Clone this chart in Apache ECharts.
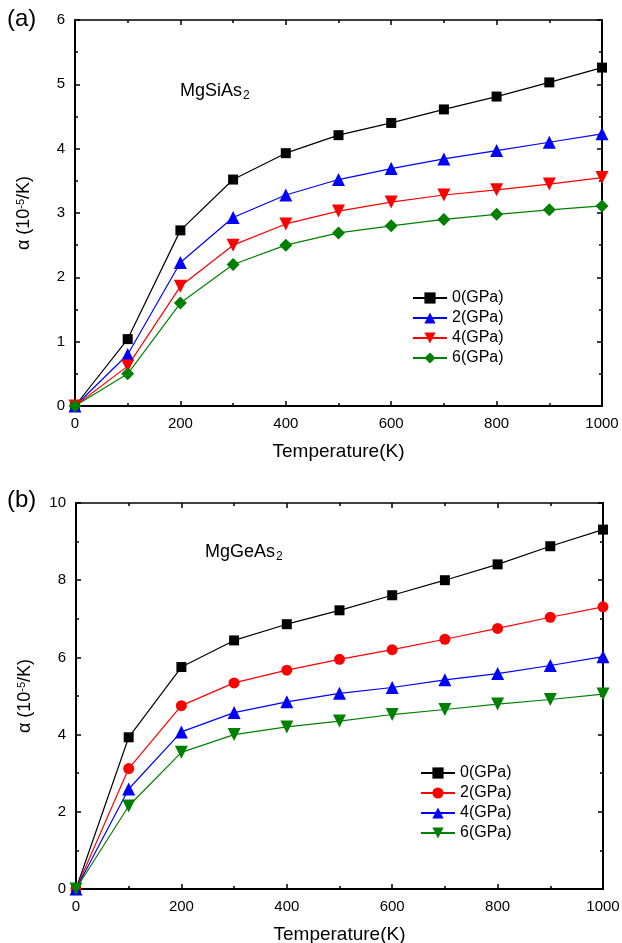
<!DOCTYPE html>
<html>
<head>
<meta charset="utf-8">
<script src="https://cdn.jsdelivr.net/npm/echarts@6/dist/echarts.min.js"></script>
<style>
  html, body { margin: 0; padding: 0; background: #fff; }
  #chart { width: 622px; height: 943px; }
</style>
</head>
<body>
<div id="chart"></div>
<script>
// Temperature grid (K)
const temperatures = [0, 100, 200, 300, 400, 500, 600, 700, 800, 900, 1000];

// Panel (a): MgSiAs2 thermal expansion, 10^-5 /K
const pressuresA = ['0(GPa)', '2(GPa)', '4(GPa)', '6(GPa)'];
const siAs_0 = [0, 1.04, 2.73, 3.52, 3.93, 4.21, 4.40, 4.61, 4.81, 5.03, 5.26];
const siAs_2 = [0, 0.80, 2.23, 2.93, 3.28, 3.52, 3.69, 3.84, 3.97, 4.10, 4.23];
const siAs_4 = [0, 0.62, 1.86, 2.50, 2.83, 3.03, 3.17, 3.28, 3.36, 3.45, 3.55];
const siAs_6 = [0, 0.50, 1.60, 2.20, 2.50, 2.69, 2.80, 2.90, 2.98, 3.05, 3.11];

// Panel (b): MgGeAs2 thermal expansion, 10^-5 /K
const pressuresB = ['0(GPa)', '2(GPa)', '4(GPa)', '6(GPa)'];
const geAs_0 = [0, 3.93, 5.75, 6.44, 6.86, 7.22, 7.61, 8.00, 8.41, 8.88, 9.31];
const geAs_2 = [0, 3.12, 4.75, 5.34, 5.67, 5.95, 6.20, 6.47, 6.75, 7.04, 7.31];
const geAs_4 = [0, 2.59, 4.07, 4.57, 4.85, 5.07, 5.22, 5.42, 5.58, 5.79, 6.02];
const geAs_6 = [0, 2.15, 3.54, 4.00, 4.20, 4.35, 4.52, 4.65, 4.79, 4.91, 5.05];

const FONT = 'Liberation Sans, Arial, sans-serif';
const BLUE = '#0000ff', RED = '#ff0000', GREEN = '#008000', BLACK = '#000000';

function pairs(ys) { return temperatures.map((t, i) => [t, ys[i]]); }

const tickStyle = { show: true, inside: true, length: 5, lineStyle: { color: '#000', width: 1.5 } };
const minorStyle = { show: true, splitNumber: 2, length: 3, lineStyle: { color: '#000', width: 1.5 } };

function bottomX(gridIndex) {
  return {
    type: 'value', gridIndex, position: 'bottom', min: 0, max: 1000, interval: 200,
    axisLine: { show: true, onZero: false, lineStyle: { color: '#000', width: 2 } },
    axisTick: tickStyle, minorTick: minorStyle, splitLine: { show: false },
    axisLabel: { color: '#000', fontSize: 15, fontFamily: FONT, margin: 10, formatter: v => String(v) },
    name: 'Temperature(K)', nameLocation: 'middle', nameGap: 36,
    nameTextStyle: { color: '#000', fontSize: 19, fontFamily: FONT }
  };
}
function topX(gridIndex) {
  return {
    type: 'value', gridIndex, position: 'top', min: 0, max: 1000, interval: 200,
    axisLine: { show: true, onZero: false, lineStyle: { color: '#000', width: 1.5 } },
    axisTick: tickStyle, minorTick: minorStyle, splitLine: { show: false }, axisLabel: { show: false }
  };
}
function leftY(gridIndex, max, interval) {
  return {
    type: 'value', gridIndex, position: 'left', min: 0, max, interval,
    axisLine: { show: true, onZero: false, lineStyle: { color: '#000', width: 2 } },
    axisTick: tickStyle, minorTick: minorStyle, splitLine: { show: false },
    axisLabel: { color: '#000', fontSize: 15, fontFamily: FONT, margin: 10 },
    name: 'α (10{sup|-5}/K)', nameLocation: 'middle', nameGap: 42, nameRotate: 90,
    nameTextStyle: {
      color: '#000', fontSize: 18, fontFamily: FONT,
      rich: { sup: { fontSize: 11, fontFamily: FONT, color: '#000', verticalAlign: 'top', padding: [0, 0, 7, 0] } }
    }
  };
}
function rightY(gridIndex, max, interval) {
  return {
    type: 'value', gridIndex, position: 'right', min: 0, max, interval,
    axisLine: { show: true, onZero: false, lineStyle: { color: '#000', width: 2 } },
    axisTick: tickStyle, minorTick: minorStyle, splitLine: { show: false }, axisLabel: { show: false }
  };
}

function lineSeries(name, ys, color, symbol, size, xi, yi, rotate) {
  return {
    type: 'line', name, data: pairs(ys), xAxisIndex: xi, yAxisIndex: yi,
    symbol, symbolSize: size, symbolRotate: rotate || 0, showAllSymbol: true,
    lineStyle: { color, width: 1.2 }, itemStyle: { color, borderWidth: 0 },
    emphasis: { disabled: true }, animation: false, z: 3
  };
}

function legendBlock(names, left, top) {
  return {
    data: names, orient: 'vertical', left, top,
    itemWidth: 34, itemHeight: 14, itemGap: 4,
    textStyle: { color: '#000', fontSize: 16, fontFamily: FONT, padding: [0, 0, 0, 0] }
  };
}

const chart = echarts.init(document.getElementById('chart'), null, { renderer: 'canvas' });

chart.setOption({
  backgroundColor: '#fff',
  animation: false,
  grid: [
    { left: 75, top: 20, width: 527, height: 386, outerBoundsMode: 'none' },
    { left: 76, top: 503, width: 527, height: 386, outerBoundsMode: 'none' }
  ],
  xAxis: [bottomX(0), topX(0), bottomX(1), topX(1)],
  yAxis: [leftY(0, 6, 1), rightY(0, 6, 1), leftY(1, 10, 2), rightY(1, 10, 2)],
  legend: [
    legendBlock(pressuresA, 407, 285),
    legendBlock(pressuresB.map(n => n + ' '), 415, 760)
  ],
  series: [
    lineSeries(pressuresA[0], siAs_0, BLACK, 'rect', 10, 0, 0),
    lineSeries(pressuresA[1], siAs_2, BLUE, 'triangle', 13, 0, 0),
    lineSeries(pressuresA[2], siAs_4, RED, 'triangle', 13, 0, 0, 180),
    lineSeries(pressuresA[3], siAs_6, GREEN, 'diamond', 13, 0, 0),
    lineSeries(pressuresB[0] + ' ', geAs_0, BLACK, 'rect', 10, 2, 2),
    lineSeries(pressuresB[1] + ' ', geAs_2, RED, 'circle', 11, 2, 2),
    lineSeries(pressuresB[2] + ' ', geAs_4, BLUE, 'triangle', 13, 2, 2),
    lineSeries(pressuresB[3] + ' ', geAs_6, GREEN, 'triangle', 13, 2, 2, 180)
  ],
  graphic: [
    { type: 'text', left: 7, top: 7, style: { text: '(a)', fontSize: 24, fontFamily: FONT, fill: '#000' } },
    { type: 'text', left: 7, top: 488, style: { text: '(b)', fontSize: 24, fontFamily: FONT, fill: '#000' } },
    {
      type: 'text', left: 180, top: 82,
      style: {
        text: 'MgSiAs{sub|2}', fontSize: 18, fontFamily: FONT, fill: '#000',
        rich: { sub: { fontSize: 12, fontFamily: FONT, fill: '#000', padding: [10, 0, 0, 1] } }
      }
    },
    {
      type: 'text', left: 205, top: 543,
      style: {
        text: 'MgGeAs{sub|2}', fontSize: 18, fontFamily: FONT, fill: '#000',
        rich: { sub: { fontSize: 12, fontFamily: FONT, fill: '#000', padding: [10, 0, 0, 1] } }
      }
    }
  ]
});
</script>
</body>
</html>
